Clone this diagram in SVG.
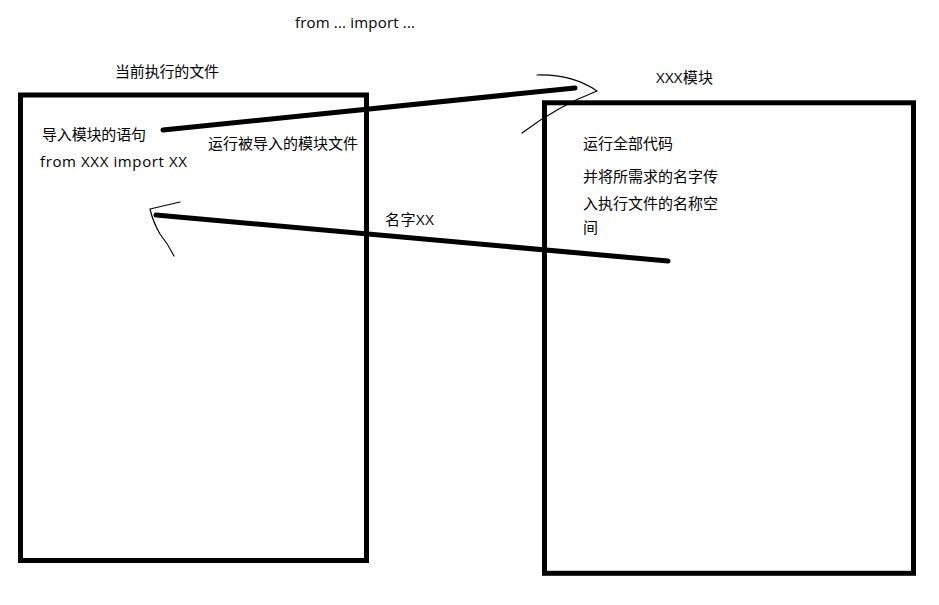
<svg xmlns="http://www.w3.org/2000/svg" width="939" height="605" viewBox="0 0 939 605">
<style>
.box{fill:none;stroke:#000;stroke-width:5}
.t{font-family:"Open Sans","Noto Sans CJK SC",sans-serif;font-size:15px;fill:#000}
.ln{fill:none;stroke:#000;stroke-width:5;stroke-linecap:round}
.hd{fill:none;stroke:#000;stroke-width:1.2;stroke-linecap:round;stroke-linejoin:round}
</style>
<rect width="939" height="605" fill="#fff"/>
<text class="t" x="295" y="28" textLength="120">from ... import ...</text>
<g id="current-file">
<rect class="box" x="20.5" y="95" width="346" height="465.5"/>
<text class="t" x="115" y="77" textLength="104">当前执行的文件</text>
<text class="t" x="42" y="140" textLength="104">导入模块的语句</text>
<text class="t" x="40" y="167" textLength="147">from XXX import XX</text>
</g>
<g id="module-xxx">
<rect class="box" x="544.5" y="102.8" width="369" height="470.5"/>
<text class="t" x="656" y="83" textLength="57">XXX模块</text>
<text class="t" x="583" y="149" textLength="90">运行全部代码</text>
<text class="t" x="583" y="182" textLength="135">并将所需求的名字传</text>
<text class="t" x="583" y="209" textLength="135">入执行文件的名称空</text>
<text class="t" x="583" y="233">间</text>
</g>
<g id="connectors">
<line class="ln" x1="163" y1="130" x2="575" y2="88"/>
<path class="hd" d="M537,75 Q572,74 597,91 Q558,106 522,133"/>
<text class="t" x="208" y="149" textLength="150">运行被导入的模块文件</text>
<line class="ln" x1="668" y1="261" x2="156" y2="215"/>
<path class="hd" d="M180,202 L150,209 Q153,222 160,234 Q168,244 174,256"/>
<text class="t" x="385" y="225" textLength="49">名字XX</text>
</g>
</svg>
